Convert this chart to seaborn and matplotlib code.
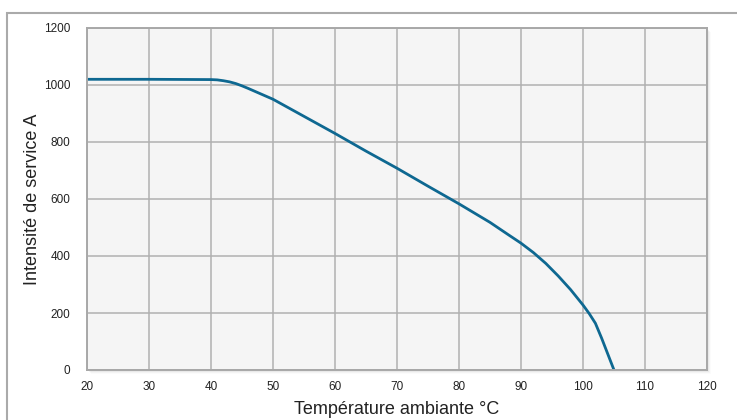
import matplotlib
matplotlib.use("Agg")
import matplotlib.pyplot as plt
import seaborn as sns
import pandas as pd
from matplotlib.patches import Rectangle

temperature = [20, 30, 40, 41, 42, 43, 44, 45, 46, 48, 50, 55, 60, 65, 70, 75, 80, 85, 88, 90, 92, 94, 96, 98, 100, 101, 102, 103, 104, 105]
intensite = [1020, 1020, 1019, 1018, 1015, 1011, 1005, 997, 988, 969, 950, 890, 830, 768, 708, 645, 583, 518, 474, 445, 412, 374, 330, 282, 228, 198, 164, 112, 56, 0]
x_ticks = [20, 30, 40, 50, 60, 70, 80, 90, 100, 110, 120]
y_ticks = [0, 200, 400, 600, 800, 1000, 1200]

df = pd.DataFrame({"T": temperature, "I": intensite})

sns.set_theme(style="whitegrid")
plt.rcParams["font.family"] = ["Liberation Sans", "DejaVu Sans"]

W, H = 737, 420
fig = plt.figure(figsize=(W / 100, H / 100), dpi=100)
L, R, T, B = 87, 707, 28, 370
ax = fig.add_axes([L / W, 1 - B / H, (R - L) / W, (B - T) / H])
ax.set_zorder(2)

# outer frame
fig.patches.append(Rectangle((7 / W, -0.1), 1.2, 1 - 13 / H + 0.1, transform=fig.transFigure,
                             fill=False, edgecolor="#aaaaaa", linewidth=1.5, zorder=0))
# shadow
for i, a in enumerate([0.12, 0.09, 0.06, 0.03]):
    off = i + 1
    fig.patches.append(Rectangle(((L + off) / W, 1 - (B + off) / H), (R - L) / W, (B - T) / H,
                                 transform=fig.transFigure, facecolor="#888888", edgecolor="none",
                                 alpha=a, zorder=0.5))

ax.set_facecolor("#f5f5f5")
sns.lineplot(data=df, x="T", y="I", ax=ax, color="#0e6891", linewidth=2)

ax.set_xlim(20, 120)
ax.set_ylim(0, 1200)
ax.set_xticks(x_ticks)
ax.set_yticks(y_ticks)
ax.grid(True, color="#b0b0b0", linewidth=1.1)
for s in ax.spines.values():
    s.set_visible(True)
    s.set_color("#a8a8a8")
    s.set_linewidth(1.4)
ax.tick_params(axis="both", length=0, labelsize=8.5, colors="#222222")
ax.tick_params(axis="x", pad=8)
ax.tick_params(axis="y", pad=12)
ax.set_xlabel("Température ambiante °C", fontsize=13, color="#222222", labelpad=6)
ax.set_ylabel("Intensité de service A", fontsize=13, color="#222222", labelpad=2)

fig.savefig("out.png", dpi=100)
